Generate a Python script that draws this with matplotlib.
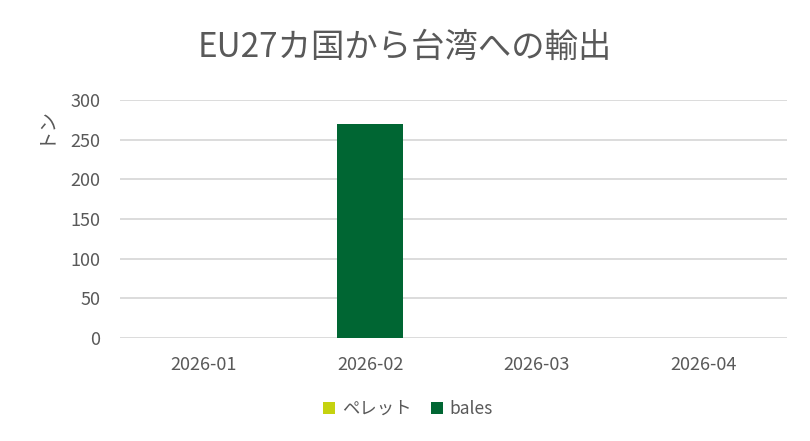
import matplotlib
matplotlib.use("Agg")
import matplotlib.pyplot as plt
import numpy as np

plt.rcParams['font.family'] = ['Noto Sans CJK JP', 'DejaVu Sans']

categories = ["2026-01", "2026-02", "2026-03", "2026-04"]
pellet = [0, 0, 0, 0]
bales = [0, 270, 0, 0]
title = "EU27カ国から台湾への輸出"
ylabel = "トン"
yticks = [0, 50, 100, 150, 200, 250, 300]

fig = plt.figure(figsize=(8.1, 4.41), dpi=100)
ax = fig.add_axes([120/810, 1-338/441, (787-120)/810, (338-100)/441])

x = np.arange(len(categories))
w = 0.4
ax.bar(x, pellet, w, color="#c5d20f", label="ペレット", zorder=3)
ax.bar(x, bales, w, bottom=pellet, color="#006633", label="bales", zorder=3)

ax.set_xlim(-0.5, len(categories)-0.5)
ax.set_ylim(0, 300)
ax.set_yticks(yticks)
ax.set_xticks(x)
ax.set_xticklabels(categories)
ax.grid(axis='y', color="#d9d9d9", linewidth=1.3, zorder=0)
for s in ax.spines.values():
    s.set_visible(False)
ax.tick_params(length=0, colors="#595959", labelsize=13)
ax.tick_params(axis='x', pad=13)
ax.tick_params(axis='y', pad=14)

fig.text(44/810, 1-125/441, ylabel, rotation=90, ha='center', va='center',
         fontsize=14, color="#595959")
fig.suptitle(title, x=0.5, y=1-47/441, va='center', fontsize=24, color="#595959")

leg = ax.legend(loc='center', bbox_to_anchor=(408/810, 1-409/441), bbox_transform=fig.transFigure,
                ncol=2, frameon=False, fontsize=12.5, handlelength=0.7, handleheight=0.7,
                handletextpad=0.4, columnspacing=1.1)
for t in leg.get_texts():
    t.set_color("#595959")

fig.savefig("out.png", dpi=100)
